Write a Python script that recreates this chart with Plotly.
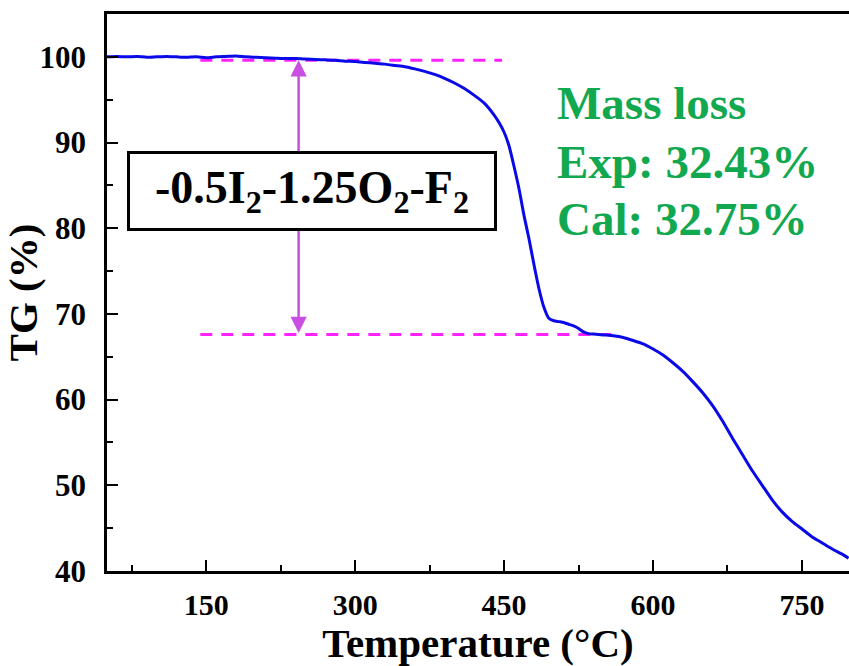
import plotly.graph_objects as go

# ---- data ----
temperature = [50, 60, 70, 80, 90, 100, 110, 120, 130, 140, 150, 160, 170, 180, 190,
               200, 210, 220, 230, 240, 250, 260, 270, 280, 290, 300, 310, 320, 330,
               340, 350, 360, 370, 380, 390, 400, 410, 420, 430, 440, 445, 450, 455,
               460, 465, 470, 475, 480, 485, 490, 495, 500, 505, 510, 515, 520, 525,
               530, 535, 540, 550, 560, 570, 580, 590, 600, 610, 620, 630, 640, 650,
               660, 670, 680, 690, 700, 710, 720, 730, 740, 750, 760, 770, 780, 790, 797]
tg = [100.0, 100.05, 100.0, 100.05, 99.95, 100.0, 100.05, 100.0, 99.95, 100.0, 99.9,
      100.0, 100.05, 100.1, 100.0, 99.95, 99.9, 99.85, 99.8, 99.8, 99.75, 99.7, 99.65,
      99.6, 99.5, 99.45, 99.35, 99.25, 99.15, 99.0, 98.85, 98.6, 98.3, 97.95, 97.5,
      96.95, 96.3, 95.5, 94.6, 93.2, 92.3, 91.2, 89.6, 87.2, 84.6, 81.5, 78.8, 75.8,
      73.0, 70.8, 69.5, 69.2, 69.1, 69.0, 68.8, 68.6, 68.3, 67.9, 67.7, 67.65, 67.55,
      67.45, 67.25, 66.9, 66.5, 65.9, 65.2, 64.3, 63.3, 62.1, 60.8, 59.3, 57.5, 55.5,
      53.6, 51.7, 50.0, 48.3, 46.9, 45.8, 44.9, 44.0, 43.3, 42.6, 42.0, 41.5]

upper_level = 99.6
lower_level = 67.6
upper_span = [144, 448]
lower_span = [144, 565]
arrow_t = 243

x_ticks = [150, 300, 450, 600, 750]
y_ticks = [40, 50, 60, 70, 80, 90, 100]

SERIF = "Liberation Serif"
GREEN = "#12A84F"

fig = go.Figure()

fig.add_trace(go.Scatter(x=upper_span, y=[upper_level, upper_level], mode="lines",
                         line=dict(color="#FF22FF", width=3, dash="12px,9px"),
                         showlegend=False, hoverinfo="skip"))
fig.add_trace(go.Scatter(x=lower_span, y=[lower_level, lower_level], mode="lines",
                         line=dict(color="#FF22FF", width=3, dash="12px,9px"),
                         showlegend=False, hoverinfo="skip"))
fig.add_trace(go.Scatter(x=temperature, y=tg, mode="lines",
                         line=dict(color="#0A0AE8", width=3, shape="spline", smoothing=0.6),
                         showlegend=False))

# double-headed arrow
fig.add_annotation(x=arrow_t, y=upper_level, ax=arrow_t, ay=lower_level,
                   xref="x", yref="y", axref="x", ayref="y",
                   text="", showarrow=True, arrowhead=2, startarrowhead=2,
                   arrowside="end+start", arrowsize=1.3, startarrowsize=1.3,
                   arrowwidth=2.5, arrowcolor="#C94FE2")

# boxed label
fig.add_annotation(x=256.8, y=84.4, xref="x", yref="y",
                   text="<b>-0.5I<sub>2</sub>-1.25O<sub>2</sub>-F<sub>2</sub></b>",
                   showarrow=False, font=dict(family=SERIF, size=46, color="black"),
                   bordercolor="black", borderwidth=3, bgcolor="white",
                   width=362, height=72, borderpad=1)

for txt, yy in [("Mass loss", 94.6), ("Exp: 32.43%", 87.75), ("Cal: 32.75%", 81.1)]:
    fig.add_annotation(x=501, y=yy, xref="x", yref="y", text="<b>%s</b>" % txt,
                       showarrow=False, xanchor="left", yanchor="middle",
                       font=dict(family=SERIF, size=47, color=GREEN))

fig.update_layout(
    width=849, height=666,
    margin=dict(l=107, r=0, t=14, b=95),
    plot_bgcolor="white", paper_bgcolor="white",
    font=dict(family=SERIF, color="black"),
)
fig.update_xaxes(
    range=[50, 797.4], tickvals=x_ticks, ticktext=["<b>%d</b>" % v for v in x_ticks],
    ticks="inside", ticklen=11, tickwidth=2, tickcolor="black",
    minor=dict(dtick=75, tick0=0, ticks="inside", ticklen=6, tickwidth=2, tickcolor="black"),
    showline=True, linewidth=2.5, linecolor="black", mirror=True,
    showgrid=False, zeroline=False,
    tickfont=dict(family=SERIF, size=30, color="black"), ticklabelstandoff=5,
    title=dict(text="<b>Temperature (°C)</b>", font=dict(family=SERIF, size=41), standoff=2),
)
fig.update_yaxes(
    range=[40, 105], tickvals=y_ticks, ticktext=["<b>%d</b>" % v for v in y_ticks],
    ticks="inside", ticklen=11, tickwidth=2, tickcolor="black",
    minor=dict(dtick=5, tick0=0, ticks="inside", ticklen=6, tickwidth=2, tickcolor="black"),
    showline=True, linewidth=2.5, linecolor="black", mirror=False,
    showgrid=False, zeroline=False,
    tickfont=dict(family=SERIF, size=31, color="black"), ticklabelstandoff=12,
    title=dict(text="<b>TG (%)</b>", font=dict(family=SERIF, size=41), standoff=6),
)

fig.write_html("out.html")
